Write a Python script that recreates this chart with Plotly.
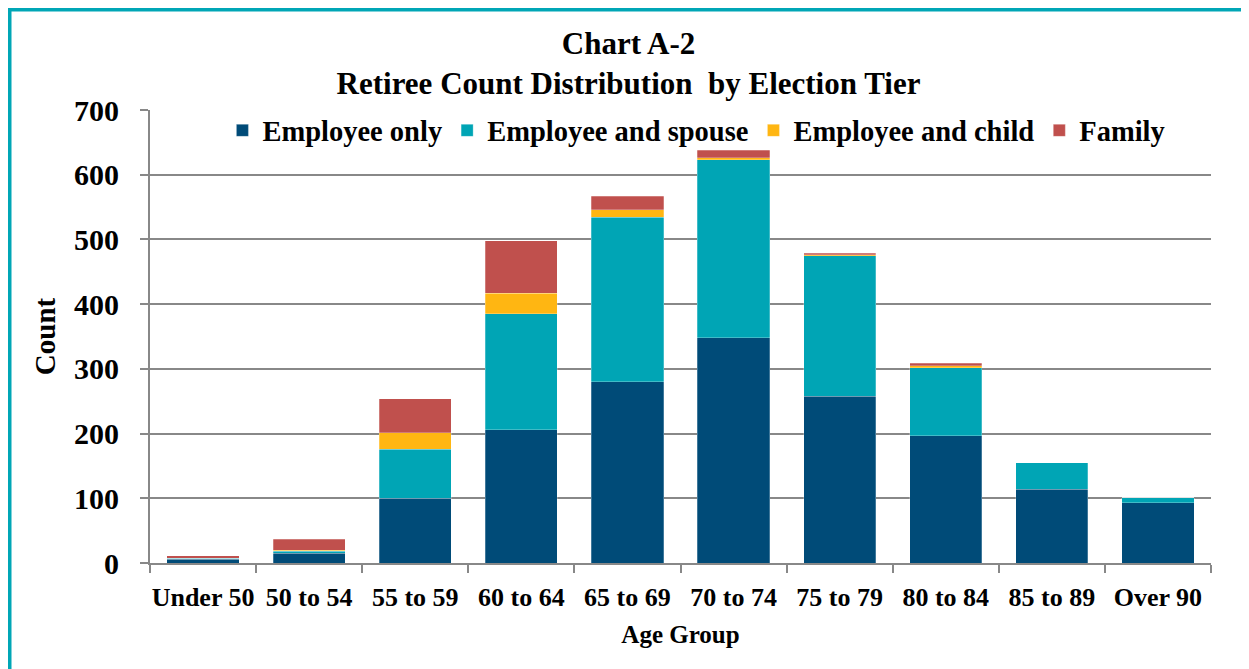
import plotly.graph_objects as go

AGE_GROUPS = ["Under 50", "50 to 54", "55 to 59", "60 to 64", "65 to 69",
              "70 to 74", "75 to 79", "80 to 84", "85 to 89", "Over 90"]
EMPLOYEE_ONLY = [6, 15, 100, 206, 280, 348, 258, 197, 114, 93]
EMPLOYEE_SPOUSE = [1, 3, 76, 179, 254, 275, 217, 105, 41, 8]
EMPLOYEE_CHILD = [0, 2, 25, 32, 12, 3, 1, 3, 0, 0]
FAMILY = [4, 17, 53, 81, 21, 12, 3, 4, 0, 0]

SERIES = [
    ("Employee only", EMPLOYEE_ONLY, "#004B78"),
    ("Employee and spouse", EMPLOYEE_SPOUSE, "#00A5B5"),
    ("Employee and child", EMPLOYEE_CHILD, "#FFB612"),
    ("Family", FAMILY, "#C0504D"),
]

FONT = "Liberation Serif"
GRID = "#888888"

# page body adds an 8px margin, so the figure is 8px smaller than the window
W, H = 1241, 661
PLOT_L, PLOT_R, PLOT_T, PLOT_B = 142, 1203, 102, 555

fig = go.Figure()
for name, values, color in SERIES:
    fig.add_trace(go.Bar(
        x=AGE_GROUPS,
        y=values,
        name=f"<b>{name}</b>",
        marker={"color": color, "line": {"color": "rgba(255,255,255,0.5)", "width": 0.5}},
    ))

fig.update_layout(
    width=W,
    height=H,
    barmode="stack",
    bargap=0.32,
    plot_bgcolor="white",
    paper_bgcolor="white",
    margin={"l": PLOT_L, "r": W - PLOT_R, "t": PLOT_T, "b": H - PLOT_B, "autoexpand": False},
    font={"family": FONT, "color": "black"},
    title={
        "text": "<b>Chart A-2<br>Retiree Count Distribution  by Election Tier</b>",
        "x": 0.5,
        "xref": "container",
        "xanchor": "center",
        "y": 1 - 46 / H,
        "yref": "container",
        "yanchor": "top",
        "font": {"size": 31, "family": FONT},
    },
    legend={
        "orientation": "h",
        "x": 0.515,
        "xanchor": "center",
        "y": 0.954,
        "yanchor": "middle",
        "font": {"size": 28.5, "family": FONT},
        "bgcolor": "rgba(0,0,0,0)",
        "traceorder": "normal",
        "itemwidth": 30,
    },
    showlegend=True,
)

fig.update_xaxes(
    automargin=False,
    tickangle=0,
    showline=True,
    linecolor=GRID,
    linewidth=2,
    ticks="outside",
    tickson="boundaries",
    ticklen=8,
    tickwidth=2,
    tickcolor=GRID,
    ticklabelstandoff=10,
    tickfont={"size": 26, "family": FONT},
    tickprefix="<b>",
    ticksuffix="</b>",
    title={"text": "<b>Age Group</b>", "font": {"size": 25, "family": FONT}, "standoff": 14},
)

fig.update_yaxes(
    automargin=False,
    range=[0, 700],
    dtick=100,
    showgrid=True,
    gridcolor=GRID,
    gridwidth=2,
    showline=True,
    linecolor=GRID,
    linewidth=2,
    ticks="outside",
    ticklen=8,
    tickwidth=2,
    tickcolor=GRID,
    ticklabelstandoff=15,
    zeroline=False,
    tickfont={"size": 30, "family": FONT},
    tickprefix="<b>",
    ticksuffix="</b>",
    title={"text": "<b>Count</b>", "font": {"size": 29, "family": FONT}, "standoff": 10},
)

# teal frame around the whole chart (screen px -> paper coords of the plot area)
pw, ph = PLOT_R - PLOT_L, PLOT_B - PLOT_T
fig.add_shape(
    type="rect",
    xref="paper",
    yref="paper",
    x0=(1 - PLOT_L) / pw,
    x1=(1240 - PLOT_L) / pw,
    y0=(PLOT_B - 720) / ph,
    y1=(PLOT_B - 1) / ph,
    line={"color": "#00A6B6", "width": 5},
    layer="below",
)

fig.write_html("out.html")
